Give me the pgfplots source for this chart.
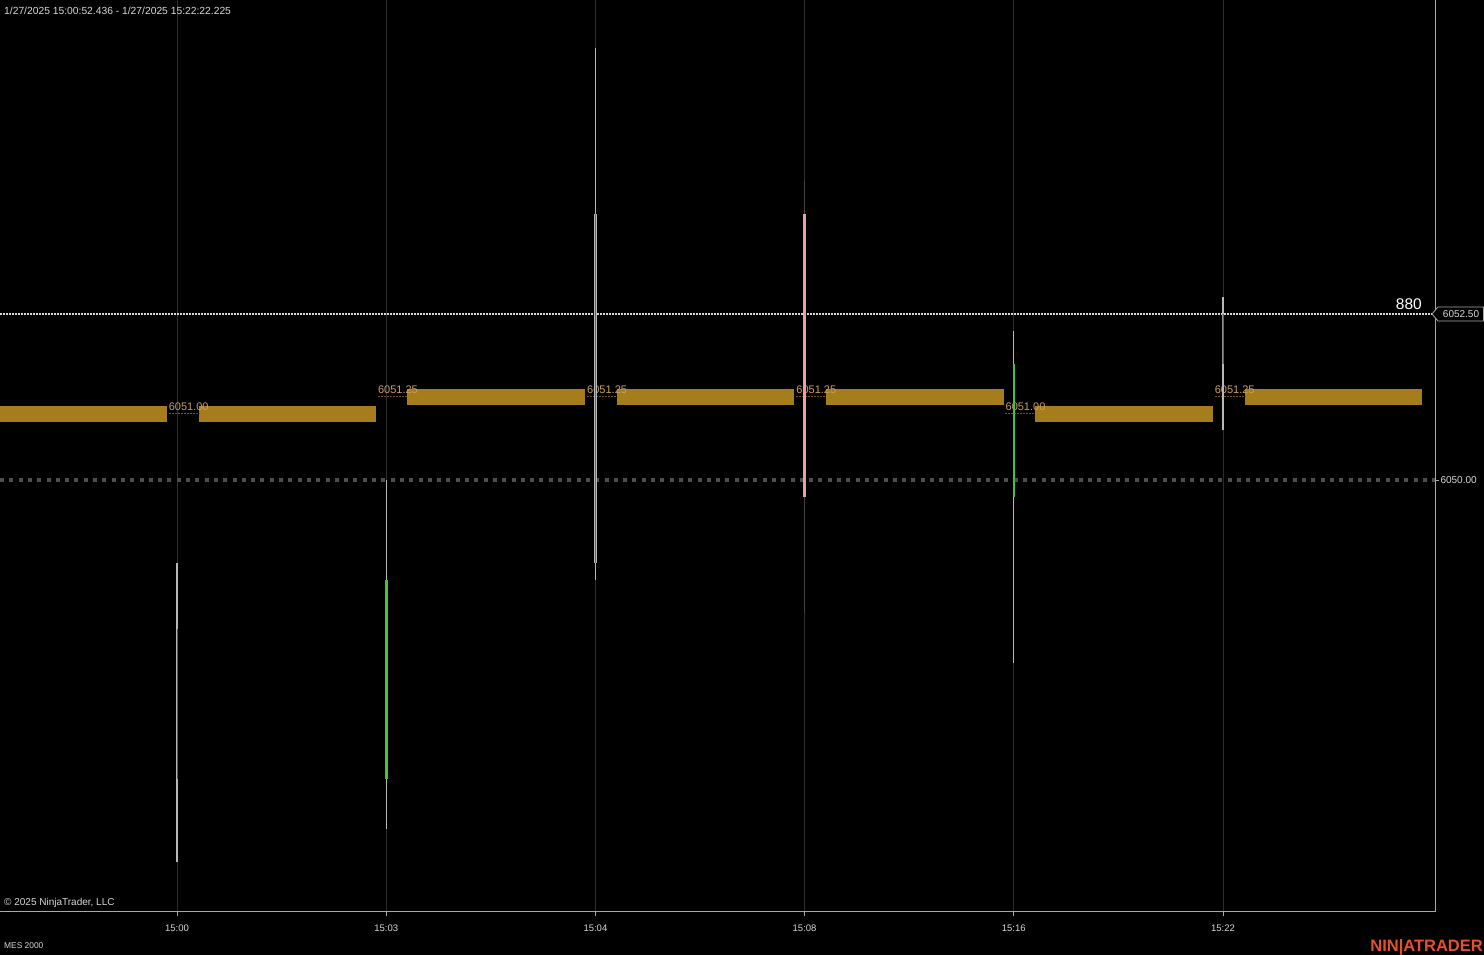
\documentclass[border=0pt]{standalone}
\usepackage{fontspec}
\setmainfont{Liberation Sans}
\usepackage{pgfplots}
\pgfplotsset{compat=1.18}
\definecolor{gold}{HTML}{A57D1C}
\definecolor{goldtxt}{HTML}{C9A064}
\definecolor{golddash}{HTML}{6E5516}
\definecolor{gridc}{HTML}{2E2E2E}
\definecolor{axc}{HTML}{A8A8A8}
\definecolor{wick}{HTML}{B8B8B8}
\definecolor{wickdark}{HTML}{444444}
\definecolor{cgreen}{HTML}{3CC83C}
\definecolor{cred}{HTML}{B03030}
\definecolor{cpink}{HTML}{E8A0A4}
\definecolor{txt}{HTML}{D8D8D8}
\definecolor{ninja}{HTML}{E8502C}
\definecolor{dashg}{HTML}{4E4E4E}
\begin{document}
\begin{tikzpicture}[x=1pt,y=1pt]
\fill[black] (0,0) rectangle (1484,955);
\useasboundingbox (0,0) rectangle (1484,955);
\begin{axis}[at={(0pt,43pt)}, anchor=south west, scale only axis,
  width=1435pt, height=912pt,
  xmin=-0.8461, xmax=6.0134, ymin=6043.494, ymax=6057.229,
  axis x line*=bottom, axis y line*=right,
  axis line style={-, color=axc, line width=1pt},
  xtick={0,1,2,3,4,5}, xticklabels={15:00,15:03,15:04,15:08,15:16,15:22},
  ytick={6050}, yticklabels={6050.00},
  tick align=outside, major tick length=4pt,
  tick style={color=axc, line width=0.8pt},
  xmajorgrids, grid style={color=gridc, line width=1pt},
  xticklabel style={font=\fontsize{9.5}{10}\selectfont, text=txt, yshift=-5pt},
  yticklabel style={font=\fontsize{10}{11}\selectfont, text=txt, anchor=west, xshift=-2pt},
  /pgf/number format/assume math mode=true,
]
% reference lines
\addplot[dashg, line width=4pt, dash pattern=on 4pt off 5.3pt] coordinates {(-0.8461,6050) (6.0134,6050)};
\addplot[txt, line width=1.2pt, dash pattern=on 1.5pt off 1.5pt] coordinates {(-0.8461,6052.5) (6.0134,6052.5)};
% gold level bars
\addplot[fill=gold, draw=none] coordinates {(-0.8461,6050.88) (-0.048,6050.88) (-0.048,6051.12) (-0.8461,6051.12)} -- cycle;
\addplot[fill=gold, draw=none] coordinates {(0.105,6050.88) (0.951,6050.88) (0.951,6051.12) (0.105,6051.12)} -- cycle;
\addplot[fill=gold, draw=none] coordinates {(1.099,6051.13) (1.950,6051.13) (1.950,6051.37) (1.099,6051.37)} -- cycle;
\addplot[fill=gold, draw=none] coordinates {(2.103,6051.13) (2.949,6051.13) (2.949,6051.37) (2.103,6051.37)} -- cycle;
\addplot[fill=gold, draw=none] coordinates {(3.102,6051.13) (3.953,6051.13) (3.953,6051.37) (3.102,6051.37)} -- cycle;
\addplot[fill=gold, draw=none] coordinates {(4.101,6050.88) (4.952,6050.88) (4.952,6051.12) (4.101,6051.12)} -- cycle;
\addplot[fill=gold, draw=none] coordinates {(5.105,6051.13) (5.951,6051.13) (5.951,6051.37) (5.105,6051.37)} -- cycle;
% dashed underlines
\addplot[golddash, line width=1pt, dash pattern=on 2pt off 1pt] coordinates {(-0.04,6051.0) (0.105,6051.0)};
\addplot[golddash, line width=1pt, dash pattern=on 2pt off 1pt] coordinates {(0.96,6051.25) (1.099,6051.25)};
\addplot[golddash, line width=1pt, dash pattern=on 2pt off 1pt] coordinates {(1.96,6051.25) (2.103,6051.25)};
\addplot[golddash, line width=1pt, dash pattern=on 2pt off 1pt] coordinates {(2.96,6051.25) (3.102,6051.25)};
\addplot[golddash, line width=1pt, dash pattern=on 2pt off 1pt] coordinates {(3.96,6051.0) (4.101,6051.0)};
\addplot[golddash, line width=1pt, dash pattern=on 2pt off 1pt] coordinates {(4.96,6051.25) (5.105,6051.25)};
% level labels
\begin{scope}[every node/.style={anchor=base west, text=goldtxt, font=\fontsize{11}{12}\selectfont, inner sep=0pt, yshift=3pt}]
\node at (axis cs:-0.04,6051.0) {6051.00};
\node at (axis cs:0.96,6051.25) {6051.25};
\node at (axis cs:1.96,6051.25) {6051.25};
\node at (axis cs:2.96,6051.25) {6051.25};
\node at (axis cs:3.96,6051.0) {6051.00};
\node at (axis cs:4.96,6051.25) {6051.25};
\end{scope}
% candles: wicks
\addplot[wick, line width=1.2pt] coordinates {(0,6044.25) (0,6048.75)};
\addplot[wick, line width=1.2pt] coordinates {(1,6044.75) (1,6050.00)};
\addplot[wick, line width=1.2pt] coordinates {(2,6048.50) (2,6056.50)};
\addplot[wickdark, line width=1.2pt] coordinates {(3,6048.00) (3,6054.50)};
\addplot[wick, line width=1.2pt] coordinates {(4,6047.25) (4,6052.25)};
\addplot[wick, line width=1.2pt] coordinates {(5,6050.75) (5,6052.75)};
% candles: bodies
\addplot[wick, line width=2.6pt] coordinates {(0,6045.50) (0,6047.75)};
\addplot[cred, line width=0.8pt] coordinates {(0,6045.50) (0,6047.75)};
\addplot[cgreen, line width=2.6pt] coordinates {(1,6045.50) (1,6048.50)};
\addplot[wick, line width=2.6pt] coordinates {(2,6048.75) (2,6054.00)};
\addplot[cgreen!70!black, line width=0.8pt] coordinates {(2,6048.75) (2,6054.00)};
\addplot[cpink, line width=2.6pt] coordinates {(3,6049.75) (3,6054.00)};
\addplot[cgreen, line width=2.6pt] coordinates {(4,6049.75) (4,6051.75)};
\addplot[wick!80!black, line width=2.6pt] coordinates {(5,6051.75) (5,6052.50)};
\addplot[cgreen!70!black, line width=0.8pt] coordinates {(5,6051.75) (5,6052.50)};
\end{axis}
% annotations
\node[anchor=west, text=txt, font=\fontsize{10.3}{12}\selectfont, inner sep=0pt] at (4,944) {1/27/2025 15:00:52.436 - 1/27/2025 15:22:22.225};
\node[anchor=west, text=txt, font=\fontsize{10}{12}\selectfont, inner sep=0pt] at (4,52) {© 2025 NinjaTrader, LLC};
\node[anchor=west, text=txt, font=\fontsize{8.4}{10}\selectfont, inner sep=0pt] at (4,9) {MES 2000};
\node[anchor=east, text=ninja, font=\bfseries\fontsize{16.5}{18}\selectfont, inner sep=0pt] at (1483,8) {NIN|ATRADER};
\node[anchor=base east, text=white, font=\fontsize{15.5}{17}\selectfont, inner sep=0pt] at (1422,645.5) {880};
\filldraw[fill=black, draw=axc, line width=0.8pt] (1432,641) -- (1438,648) -- (1483.5,648) -- (1483.5,634) -- (1438,634) -- cycle;
\node[text=txt, font=\fontsize{10}{11}\selectfont, inner sep=0pt] at (1461,641) {6052.50};
\end{tikzpicture}
\end{document}
